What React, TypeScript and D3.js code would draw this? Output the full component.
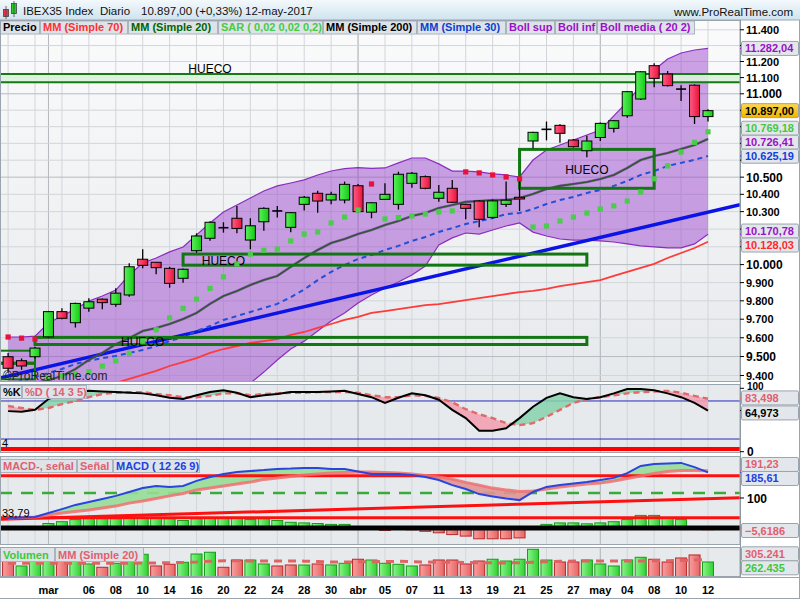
import React from "react";
import * as d3 from "d3";

// ---------- DATA ----------
const dates = [
  "2017-02-24","2017-02-27","2017-02-28",
  "2017-03-01","2017-03-02","2017-03-03","2017-03-06","2017-03-07","2017-03-08","2017-03-09","2017-03-10",
  "2017-03-13","2017-03-14","2017-03-15","2017-03-16","2017-03-17","2017-03-20","2017-03-21","2017-03-22",
  "2017-03-23","2017-03-24","2017-03-27","2017-03-28","2017-03-29","2017-03-30","2017-03-31",
  "2017-04-03","2017-04-04","2017-04-05","2017-04-06","2017-04-07","2017-04-10","2017-04-11","2017-04-12",
  "2017-04-13","2017-04-18","2017-04-19","2017-04-20","2017-04-21","2017-04-24","2017-04-25","2017-04-26",
  "2017-04-27","2017-04-28",
  "2017-05-02","2017-05-03","2017-05-04","2017-05-05","2017-05-08","2017-05-09","2017-05-10","2017-05-11","2017-05-12",
];
const opens = [9499,9478,9499,9605,9741,9681,9760,9809,9781,9832,10030,10013,9979,9924,10078,10148,10208,10262,10138,10242,10304,10210,10342,10406,10367,10367,10450,10297,10371,10342,10464,10503,10377,10435,10342,10361,10267,10342,10383,10714,10784,10808,10720,10656,10735,10790,10866,10968,11174,11122,11029,11053,10861];
const highs = [9519,9490,9552,9745,9760,9790,9814,9812,9869,10007,10086,10015,9988,9978,10176,10245,10239,10332,10262,10325,10332,10298,10390,10421,10415,10474,10460,10355,10464,10532,10530,10510,10454,10483,10345,10365,10370,10474,10488,10770,10831,10815,10725,10745,10825,10840,11016,11140,11189,11141,11053,11058,10905];
const lows = [9416,9430,9490,9600,9700,9655,9741,9754,9768,9822,9979,9946,9872,9899,10067,10134,10180,10177,10086,10190,10267,10182,10306,10294,10342,10348,10295,10262,10368,10312,10438,10430,10357,10350,10256,10210,10260,10327,10304,10671,10718,10704,10675,10617,10714,10765,10854,10962,11040,11045,10956,10816,10831];
const closes = [9438,9450,9545,9741,9705,9786,9795,9790,9842,9988,9996,9983,9896,9974,10161,10239,10208,10204,10219,10319,10304,10294,10383,10361,10400,10458,10300,10351,10400,10517,10523,10435,10412,10354,10319,10256,10362,10366,10373,10766,10784,10760,10680,10714,10820,10836,11013,11136,11095,11050,11029,10861,10897];
const prevCloseBeforeFirst = 9480;

const volumes = [301200,191400,289800,331500,300700,290300,227100,168400,239200,280600,400300,191800,221500,257300,405100,436400,168200,298300,297700,227600,191300,209400,208900,227200,209600,239100,311400,298200,239500,221300,191100,209700,298400,297900,227300,280200,311200,280400,311600,489300,298100,262300,262700,298500,227400,191200,298600,346300,311300,262100,334400,388200,262435];
const volumeMA20 = [241000,240000,239000,238000,238000,239000,239000,240000,240000,241000,243000,246000,250000,255000,262000,275000,286000,283000,280000,280000,280000,280000,278000,270000,262000,262000,265000,268000,270000,275000,268000,262000,257000,257000,254000,250000,248000,245000,250000,257000,265000,275000,280000,280000,280000,280000,280000,282000,283000,285000,290000,298000,305241];

const sma20 = [9345,9352,9362,9375,9397,9434,9482,9519,9566,9598,9636,9652,9674,9701,9734,9783,9826,9854,9887,9914,9937,9987,10037,10082,10121,10144,10172,10195,10223,10246,10275,10292,10321,10338,10356,10361,10367,10367,10379,10402,10431,10449,10460,10472,10489,10513,10554,10601,10625,10643,10666,10690,10726.41];
const sma30 = [9350,9371,9392,9413,9434,9461,9477,9492,9503,9519,9535,9556,9582,9604,9636,9663,9696,9717,9739,9761,9783,9820,9862,9914,9959,9998,10031,10054,10082,10105,10133,10155,10184,10206,10229,10246,10263,10286,10292,10315,10344,10367,10385,10408,10425,10449,10478,10513,10536,10566,10584,10602,10625.19];
const sma70 = [9273,9283,9294,9304,9315,9325,9335,9346,9361,9382,9403,9424,9450,9471,9492,9519,9540,9556,9572,9582,9593,9615,9631,9653,9674,9696,9712,9734,9744,9755,9766,9777,9782,9793,9804,9815,9826,9837,9848,9854,9865,9881,9892,9903,9914,9937,9959,9982,10004,10037,10065,10093,10128.03];
const bollUpper = [9604,9604,9609,9679,9717,9755,9799,9826,9859,9942,10009,10037,10071,10099,10167,10235,10298,10338,10379,10419,10449,10466,10484,10513,10536,10550,10556,10552,10554,10584,10613,10613,10578,10536,10536,10531,10519,10513,10501,10601,10660,10690,10720,10750,10780,10865,10950,11048,11147,11216,11253,11272,11282.04];
const bollLower = [9090,9085,9080,9070,9080,9100,9160,9190,9220,9250,9265,9270,9275,9290,9300,9320,9335,9345,9360,9418,9482,9540,9582,9636,9690,9734,9788,9832,9870,9903,9942,9992,10110,10150,10178,10172,10195,10218,10235,10183,10161,10144,10138,10138,10133,10127,10116,10105,10099,10094,10094,10116,10170.78];
const sar = [9604,9598,9593,9390,9398,9408,9420,9450,9477,9517,9582,9643,9707,9759,9809,9868,9932,10004,10059,10080,10087,10133,10172,10184,10235,10269,10309,10460,10258,10266,10275,10286,10298,10304,10531,10525,10513,10501,10490,10212,10218,10246,10269,10292,10315,10333,10361,10413,10490,10566,10648,10706,10769.18];

const stochK = [64,63,66,83,92,94,96,95,94,93,92,89,85,83,89,94,97,93,86,89,91,94,94,94,95,96,91,86,77,85,92,89,82,66,53,33,33,37,53,71,85,92,86,83,86,92,99,99,97,92,86,77,64.973];
const stochD = [72,69,66,69,75,80,86,91,93,94,94,91,89,86,86,88,92,92,89,91,92,93,93,94,94,94,93,89,86,86,89,88,85,78,67,59,53,45,42,45,55,66,77,83,86,89,92,94,95,96,93,88,83.498];

const macdLine = [33,35,37,50,63,77,87,97,107,120,133,140,137,140,157,170,180,187,190,193,197,198,200,200,197,197,188,180,180,180,177,170,160,143,130,113,105,98,93,120,137,143,148,153,160,167,183,207,213,215,217,203,185.61];
const macdSignal = [33,35,37,43,50,55,60,67,73,83,90,98,107,115,127,133,140,147,153,162,167,172,177,180,183,185,187,187,185,183,180,175,170,163,152,143,133,127,122,123,130,137,142,147,150,157,165,173,182,188,192,192,191.23];
const macdHist = [0,0,0,15,21,28,31,31,31,33,33,33,31,25,31,33,33,33,28,31,25,19,17,15,12,12,5,-3,-8,-5,-6,-11,-16,-22,-27,-36,-36,-36,-33,-2,12,17,17,14,17,21,28,42,42,34,28,-2,-5.6186];

const priceTicks = [9400,9500,9600,9700,9800,9900,10000,10100,10200,10300,10400,10500,10600,10700,10800,10900,11000,11100,11200,11300,11400];
const stochTicks = [100, 50, 0];
const macdTicks = [100];
const tickDates = ["2017-03-01","2017-03-06","2017-03-08","2017-03-10","2017-03-14","2017-03-16","2017-03-20","2017-03-22","2017-03-24","2017-03-28","2017-03-30","2017-04-03","2017-04-05","2017-04-07","2017-04-11","2017-04-13","2017-04-19","2017-04-21","2017-04-25","2017-04-27","2017-05-02","2017-05-04","2017-05-08","2017-05-10","2017-05-12"];
const tickTexts = ["mar","06","08","10","14","16","20","22","24","28","30","abr","05","07","11","13","19","21","25","27","may","04","08","10","12"];
const monthStarts = ["2017-03-01","2017-04-03","2017-05-02"];

// gap ("HUECO") zones
const gapLows = [11071, 10435, 9997, 9564, 9468, 9380];
const gapHighs = [11122, 10664, 10059, 9602, 9531, 9461];
const gapStarts: (string | null)[] = [null, "2017-04-21", "2017-03-15", "2017-02-28", null, null];
const gapEnds: (string | null)[] = [null, "2017-05-08", "2017-04-28", "2017-04-28", "2017-02-28", "2017-02-28"];
const gapLabelDates: (string | null)[] = ["2017-03-17", "2017-04-28", "2017-03-20", "2017-03-10", null, null];

// trend lines
const trendDates = ["2017-02-24", "2017-05-12"];
const trendPrices = [9397, 10297];
const macdTrendValues = [29.7, 98];
const macdRedLevels = [174.3, 33.79];
const macdDashLevel = 116.7;
const stochBlueLevels = [80, 20];
const stochRedLevel = 4.2;

// ---------- helpers ----------
const loc = d3.formatLocale({ decimal: ",", thousands: ".", grouping: [3], currency: ["", ""] });
const fmt2 = loc.format(",.2f");
const fmt3 = loc.format(".3f");
const fmt4 = loc.format(".4f");
const fmtInt = loc.format(",.0f");

function spread<T extends { y: number }>(items: T[], gap: number) {
  const arr = items.map((d) => ({ ...d, ly: d.y })).sort((a, b) => a.y - b.y);
  for (let it = 0; it < 60; it++) {
    let moved = false;
    for (let k = 0; k < arr.length - 1; k++) {
      const d = arr[k + 1].ly - arr[k].ly;
      if (d < gap - 0.01) {
        const m = (gap - d) / 2;
        arr[k].ly -= m;
        arr[k + 1].ly += m;
        moved = true;
      }
    }
    if (!moved) break;
  }
  return arr;
}

const FONT = "'Liberation Sans', Arial, Helvetica, sans-serif";
const AX = 740;
const P = { top: 20, bottom: 382 };
const S = { top: 384, bottom: 453 };
const M = { top: 456, bottom: 545 };
const V = { top: 547, bottom: 577 };

function LegendRow({ items, y, h }: { items: { x0: number; x1: number; text: string; color: string }[]; y: number; h: number }) {
  return (
    <g>
      {items.map((it, k) => (
        <g key={k}>
          <rect x={it.x0 + 0.5} y={y + 0.5} width={it.x1 - it.x0 - 1} height={h} fill="#dde3e8" stroke="#aab4bd" />
          <text x={it.x0 + 3} y={y + h - 2.5} fontSize={11} fontWeight="bold" fill={it.color} fontFamily={FONT}>
            {it.text}
          </text>
        </g>
      ))}
    </g>
  );
}

function ValueBox({ y, ly, text, color, fill }: { y: number; ly: number; text: string; color: string; fill?: string }) {
  return (
    <g>
      <line x1={AX} x2={AX + 4} y1={y} y2={y} stroke={color} strokeWidth={1} />
      <rect x={741.5} y={ly - 7} width={57} height={14} rx={1.5} fill={fill || "#e3e7eb"} stroke="#9aa4ae" />
      <text x={745} y={ly + 4} fontSize={11} fontWeight="bold" fill={fill ? "#000" : color} fontFamily={FONT}>
        {text}
      </text>
    </g>
  );
}

export default function App() {
  const x = d3.scalePoint<string>().domain(dates).range([8.1, 708]);
  const X = (i: number) => x(dates[i]) as number;
  const XD = (d: string) => x(d) as number;
  const yP = d3.scaleLog().domain([9400, 11200]).range([375.5, 61.5]);
  const yS = d3.scaleLinear().domain([0, 100]).range([451.7, 388.3]);
  const yM = d3.scaleLinear().domain([0, 100]).range([528, 498]);
  const yV = d3.scaleLinear().domain([0, 262435]).range([576.7, 562]);

  const lineOf = (arr: number[], ys: (v: number) => number) =>
    d3.line<number>().x((_, i) => X(i)).y((v) => ys(v))(arr) || "";

  const bollArea =
    d3.area<number>().x((_, i) => X(i)).y0((_, i) => yP(bollLower[i])).y1((v) => yP(v))(bollUpper) || "";

  const stBetween = d3.area<number>().x((_, i) => X(i)).y0((_, i) => yS(stochD[i])).y1((v) => yS(v))(stochK) || "";
  const stAboveD = d3.area<number>().x((_, i) => X(i)).y0(S.top).y1((v) => yS(v))(stochD) || "";
  const stBelowD = d3.area<number>().x((_, i) => X(i)).y0(S.bottom).y1((v) => yS(v))(stochD) || "";
  const mBetween = d3.area<number>().x((_, i) => X(i)).y0((_, i) => yM(macdSignal[i])).y1((v) => yM(v))(macdLine) || "";
  const mAboveS = d3.area<number>().x((_, i) => X(i)).y0(M.top).y1((v) => yM(v))(macdSignal) || "";
  const mBelowS = d3.area<number>().x((_, i) => X(i)).y0(M.bottom).y1((v) => yM(v))(macdSignal) || "";

  const tx0 = XD(trendDates[0]), tx1 = XD(trendDates[1]);
  const ty0 = yP(trendPrices[0]), ty1 = yP(trendPrices[1]);
  const tSlope = (ty1 - ty0) / (tx1 - tx0);
  const my0 = yM(macdTrendValues[0]), my1 = yM(macdTrendValues[1]);
  const mSlope = (my1 - my0) / (tx1 - tx0);

  const gridIdx = dates.map((_, i) => i).filter((i) => i % 2 === 0);
  const last = dates.length - 1;

  const priceLabels = spread(
    [
      { y: yP(bollUpper[last]), text: fmt2(bollUpper[last]), color: "#9a10c8" },
      { y: yP(closes[last]), text: fmt2(closes[last]), color: "#000", fill: "url(#gold)" },
      { y: yP(sar[last]), text: fmt2(sar[last]), color: "#44c844" },
      { y: yP(sma20[last]), text: fmt2(sma20[last]), color: "#9a10c8" },
      { y: yP(sma30[last]), text: fmt2(sma30[last]), color: "#1040e0" },
      { y: yP(bollLower[last]), text: fmt2(bollLower[last]), color: "#9a10c8" },
      { y: yP(sma70[last]), text: fmt2(sma70[last]), color: "#ff2a2a" },
    ],
    14
  );
  const stochLabels = spread(
    [
      { y: yS(stochD[last]), text: fmt3(stochD[last]), color: "#e06070" },
      { y: yS(stochK[last]), text: fmt3(stochK[last]), color: "#000" },
    ],
    15
  );
  const macdLabels = spread(
    [
      { y: yM(macdSignal[last]), text: fmt2(macdSignal[last]), color: "#e06070" },
      { y: yM(macdLine[last]), text: fmt2(macdLine[last]), color: "#2040e0" },
    ],
    14
  );
  const volLabels = spread(
    [
      { y: yV(volumeMA20[last]), text: fmtInt(volumeMA20[last]), color: "#e06070" },
      { y: yV(volumes[last]), text: fmtInt(volumes[last]), color: "#3cc83c" },
    ],
    14
  );
  const boxYs = [...priceLabels, ...stochLabels, ...macdLabels].map((l) => l.ly);
  const freeOfBoxes = (yy: number, lim: number) => boxYs.every((b) => Math.abs(b - yy) >= lim);

  const vgrid = (top: number, bottom: number) => (
    <g>
      {gridIdx.map((i) => (
        <line key={i} x1={X(i)} x2={X(i)} y1={top} y2={bottom} stroke="#d2d6da" strokeWidth={1} />
      ))}
      {monthStarts.map((d) => (
        <line key={d} x1={XD(d)} x2={XD(d)} y1={top} y2={bottom} stroke="#b4b9be" strokeWidth={1} />
      ))}
    </g>
  );

  return (
    <svg width={800} height={600} style={{ position: "absolute", left: 0, top: 0 }} fontFamily={FONT}>
      <defs>
        <linearGradient id="hdr" x1="0" y1="0" x2="0" y2="1">
          <stop offset="0" stopColor="#f3f9fc" />
          <stop offset="1" stopColor="#cfe3ee" />
        </linearGradient>
        <linearGradient id="pbg" x1="0" y1="0" x2="0" y2="1">
          <stop offset="0" stopColor="#fbfbfc" />
          <stop offset="1" stopColor="#e6e9ec" />
        </linearGradient>
        <linearGradient id="gold" x1="0" y1="0" x2="0" y2="1">
          <stop offset="0" stopColor="#ffd84a" />
          <stop offset="1" stopColor="#f0b400" />
        </linearGradient>
        <linearGradient id="cg" x1="0" y1="0" x2="1" y2="0">
          <stop offset="0" stopColor="#5cf05c" />
          <stop offset="1" stopColor="#12cc12" />
        </linearGradient>
        <linearGradient id="cr" x1="0" y1="0" x2="1" y2="0">
          <stop offset="0" stopColor="#ff5c80" />
          <stop offset="1" stopColor="#e8123e" />
        </linearGradient>
        <linearGradient id="vg" x1="0" y1="0" x2="1" y2="0">
          <stop offset="0" stopColor="#8af58a" />
          <stop offset="1" stopColor="#30d030" />
        </linearGradient>
        <linearGradient id="vr" x1="0" y1="0" x2="1" y2="0">
          <stop offset="0" stopColor="#f8a0a0" />
          <stop offset="1" stopColor="#e86464" />
        </linearGradient>
        <clipPath id="clipP"><rect x={1} y={P.top} width={AX - 1} height={P.bottom - P.top} /></clipPath>
        <clipPath id="clipS"><rect x={1} y={S.top} width={AX - 1} height={S.bottom - S.top} /></clipPath>
        <clipPath id="clipM"><rect x={1} y={M.top} width={AX - 1} height={M.bottom - M.top} /></clipPath>
        <clipPath id="clipV"><rect x={1} y={V.top} width={AX - 1} height={V.bottom - V.top} /></clipPath>
        <clipPath id="stAbove"><path d={stAboveD} /></clipPath>
        <clipPath id="stBelow"><path d={stBelowD} /></clipPath>
        <clipPath id="mAbove"><path d={mAboveS} /></clipPath>
        <clipPath id="mBelow"><path d={mBelowS} /></clipPath>
      </defs>

      <rect x={0} y={0} width={800} height={600} fill="#ffffff" />

      {/* header */}
      <rect x={0} y={0} width={800} height={20} fill="url(#hdr)" />
      <line x1={0} x2={800} y1={20} y2={20} stroke="#9aa6b0" />
      <rect x={3.5} y={9.5} width={5} height={7} fill="#f03050" stroke="#444" strokeWidth={0.8} />
      <line x1={6} x2={6} y1={6} y2={19} stroke="#444" strokeWidth={0.8} />
      <rect x={11.5} y={3.5} width={5} height={10} fill="#22d022" stroke="#444" strokeWidth={0.8} />
      <line x1={14} x2={14} y1={1} y2={17} stroke="#444" strokeWidth={0.8} />
      <g fontSize={11.5} fill="#111">
        <text x={23} y={15}>IBEX35 Index</text>
        <text x={100} y={15}>Diario</text>
        <text x={141} y={15}>10.897,00 (+0,33%)</text>
        <text x={245} y={15}>12-may-2017</text>
        <text x={793} y={15.5} textAnchor="end">www.ProRealTime.com</text>
      </g>

      {/* ---------- PRICE PANEL ---------- */}
      <rect x={0} y={P.top} width={AX} height={P.bottom - P.top} fill="url(#pbg)" />
      <g clipPath="url(#clipP)">
        {vgrid(P.top, P.bottom)}
        {priceTicks.map((t) => (
          <line key={t} x1={0} x2={AX} y1={yP(t)} y2={yP(t)} stroke={t % 500 === 0 ? "#b6bbc0" : "#d2d6da"} />
        ))}
        <path d={bollArea} fill="#9a40cc" fillOpacity={0.48} />
        <path d={lineOf(bollUpper, yP)} fill="none" stroke="#8a2cc0" strokeWidth={1.2} />
        <path d={lineOf(bollLower, yP)} fill="none" stroke="#8a2cc0" strokeWidth={1.2} />
        <rect x={0} y={yP(gapHighs[0])} width={AX} height={yP(gapLows[0]) - yP(gapHighs[0])} fill="#dcf3dc" fillOpacity={0.9} />
        <path d={lineOf(sma70, yP)} fill="none" stroke="#ff3a3a" strokeWidth={1.8} />
        <line x1={0} y1={ty0 - tSlope * tx0} x2={AX} y2={ty0 + tSlope * (AX - tx0)} stroke="#0a14e6" strokeWidth={3.5} />
        <path d={lineOf(sma30, yP)} fill="none" stroke="#2050d8" strokeWidth={2} strokeDasharray="5,4" />
        <path d={lineOf(sma20, yP)} fill="none" stroke="#7a30b0" strokeWidth={2.6} strokeOpacity={0.6} />
        <path d={lineOf(sma20, yP)} fill="none" stroke="#2f5a2f" strokeWidth={1.6} />
        {gapLows.map((lo, k) => {
          const hi = gapHighs[k];
          const x0 = gapStarts[k] ? XD(gapStarts[k] as string) : -5;
          const x1 = gapEnds[k] ? XD(gapEnds[k] as string) : AX + 5;
          const yt = yP(hi), yb = yP(lo);
          const ld = gapLabelDates[k];
          if (k === 0) {
            return (
              <g key={k}>
                <line x1={x0} x2={x1} y1={yt} y2={yt} stroke="#167a16" strokeWidth={2} />
                <line x1={x0} x2={x1} y1={yb} y2={yb} stroke="#167a16" strokeWidth={2} />
                {ld && <text x={XD(ld)} y={yt - 1.5} textAnchor="middle" fontSize={12} fill="#000">HUECO</text>}
              </g>
            );
          }
          return (
            <g key={k}>
              <rect x={x0} y={yt} width={x1 - x0} height={yb - yt} fill="none" stroke="#127612" strokeWidth={ld ? 3 : 2} />
              {ld && <text x={XD(ld)} y={(yt + yb) / 2 + 5} textAnchor="middle" fontSize={12} fill="#000">HUECO</text>}
            </g>
          );
        })}
        {dates.map((d, i) => {
          const cx = X(i);
          const o = opens[i], c = closes[i];
          return (
            <g key={d}>
              <line x1={cx} x2={cx} y1={yP(highs[i])} y2={yP(lows[i])} stroke="#000" strokeWidth={1.3} />
              {o === c ? (
                <line x1={cx - 5} x2={cx + 5} y1={yP(c)} y2={yP(c)} stroke="#000" strokeWidth={1.6} />
              ) : (
                <rect
                  x={cx - 5}
                  width={10}
                  y={yP(Math.max(o, c))}
                  height={Math.max(1, Math.abs(yP(o) - yP(c)))}
                  fill={c > o ? "url(#cg)" : "url(#cr)"}
                  stroke="#000"
                  strokeWidth={1}
                />
              )}
            </g>
          );
        })}
        {sar.map((v, i) => (
          <rect key={i} x={X(i) - 2.6} y={yP(v) - 2.6} width={5.2} height={5.2} fill={v > highs[i] ? "#e8103c" : "#4ccc4c"} />
        ))}
        <text x={3} y={380} fontSize={12} fill="#222">©ProRealTime.com</text>
      </g>
      <LegendRow
        y={20.5}
        h={13}
        items={[
          { x0: 0, x1: 40, text: "Precio", color: "#000" },
          { x0: 40, x1: 128, text: "MM (Simple 70)", color: "#ff3030" },
          { x0: 128, x1: 218, text: "MM (Simple 20)", color: "#006400" },
          { x0: 218, x1: 323, text: "SAR ( 0,02 0,02 0,2)", color: "#44cc44" },
          { x0: 323, x1: 417, text: "MM (Simple 200)", color: "#000" },
          { x0: 417, x1: 506, text: "MM (Simple 30)", color: "#0a40d0" },
          { x0: 506, x1: 555, text: "Boll sup", color: "#9a10c8" },
          { x0: 555, x1: 597, text: "Boll inf", color: "#9a10c8" },
          { x0: 597, x1: 695, text: "Boll media ( 20 2)", color: "#9a10c8" },
        ]}
      />

      {/* ---------- STOCHASTIC PANEL ---------- */}
      <rect x={0} y={S.top} width={AX} height={S.bottom - S.top} fill="#e7eaed" />
      <g clipPath="url(#clipS)">
        {vgrid(S.top, S.bottom)}
        {stochBlueLevels.map((l) => (
          <line key={l} x1={0} x2={AX} y1={yS(l)} y2={yS(l)} stroke="#2a2ab8" strokeWidth={1} />
        ))}
        <line x1={0} x2={AX} y1={yS(stochRedLevel)} y2={yS(stochRedLevel)} stroke="#ff0000" strokeWidth={4} />
        <path d={stBetween} fill="#86d2ac" fillOpacity={0.85} clipPath="url(#stAbove)" />
        <path d={stBetween} fill="#f2a2b4" fillOpacity={0.9} clipPath="url(#stBelow)" />
        <path d={lineOf(stochD, yS)} fill="none" stroke="#e06a6a" strokeWidth={2.4} strokeDasharray="6,4" />
        <path d={lineOf(stochK, yS)} fill="none" stroke="#000" strokeWidth={2} />
        <text x={2} y={447} fontSize={11} fill="#000">4</text>
      </g>
      <LegendRow
        y={385}
        h={13}
        items={[
          { x0: 0, x1: 22, text: "%K", color: "#000" },
          { x0: 22, x1: 87, text: "%D ( 14 3 5)", color: "#e06070" },
        ]}
      />

      {/* ---------- MACD PANEL ---------- */}
      <rect x={0} y={M.top} width={AX} height={M.bottom - M.top} fill="#e7eaed" />
      <g clipPath="url(#clipM)">
        {vgrid(M.top, M.bottom)}
        <line x1={0} x2={AX} y1={yM(macdDashLevel)} y2={yM(macdDashLevel)} stroke="#3aaa3a" strokeWidth={2.5} strokeDasharray="12,9" />
        {macdHist.map((v, i) =>
          Math.abs(v) < 0.5 ? null : (
            <rect
              key={i}
              x={X(i) - 5.5}
              width={11}
              y={Math.min(yM(v), yM(0))}
              height={Math.abs(yM(v) - yM(0))}
              fill={v > 0 ? "url(#vg)" : "url(#vr)"}
              stroke={v > 0 ? "#1a9a1a" : "#b82828"}
              strokeWidth={1}
            />
          )
        )}
        <line x1={0} x2={AX} y1={yM(0)} y2={yM(0)} stroke="#000" strokeWidth={5} />
        <path d={mBetween} fill="#96de96" fillOpacity={0.9} clipPath="url(#mAbove)" />
        <path d={mBetween} fill="#e09494" fillOpacity={0.9} clipPath="url(#mBelow)" />
        {macdRedLevels.map((l) => (
          <line key={l} x1={0} x2={AX} y1={yM(l)} y2={yM(l)} stroke="#ff1010" strokeWidth={3} />
        ))}
        <line x1={0} y1={my0 - mSlope * tx0} x2={AX} y2={my0 + mSlope * (AX - tx0)} stroke="#ff1010" strokeWidth={3} />
        <path d={lineOf(macdSignal, yM)} fill="none" stroke="#f07070" strokeWidth={3} strokeOpacity={0.85} />
        <path d={lineOf(macdLine, yM)} fill="none" stroke="#2a44e0" strokeWidth={2} />
        <text x={2} y={517} fontSize={11} fill="#000">33,79</text>
      </g>
      <LegendRow
        y={459}
        h={13}
        items={[
          { x0: 0, x1: 77, text: "MACD-, señal", color: "#e06070" },
          { x0: 77, x1: 113, text: "Señal", color: "#e06070" },
          { x0: 113, x1: 200, text: "MACD ( 12 26 9)", color: "#2040e0" },
        ]}
      />

      {/* ---------- VOLUME PANEL ---------- */}
      <rect x={0} y={V.top} width={AX} height={V.bottom - V.top} fill="#e7eaed" />
      <g clipPath="url(#clipV)">
        {vgrid(V.top, V.bottom)}
        {volumes.map((v, i) => {
          const prev = i === 0 ? prevCloseBeforeFirst : closes[i - 1];
          const up = closes[i] >= prev;
          return (
            <rect
              key={i}
              x={X(i) - 5.5}
              width={11}
              y={yV(v)}
              height={yV(0) - yV(v)}
              fill={up ? "url(#vg)" : "url(#vr)"}
              stroke={up ? "#1a9a1a" : "#b82828"}
              strokeWidth={1}
            />
          );
        })}
        <path d={lineOf(volumeMA20, yV)} fill="none" stroke="#e06464" strokeWidth={3} strokeDasharray="8,6" />
      </g>
      <LegendRow
        y={547}
        h={14}
        items={[
          { x0: 0, x1: 55, text: "Volumen", color: "#3cc83c" },
          { x0: 55, x1: 144, text: "MM (Simple 20)", color: "#e06070" },
        ]}
      />

      {/* panel frames */}
      {[P, S, M, V].map((p, k) => (
        <rect key={k} x={0.5} y={p.top + 0.5} width={AX - 0.5} height={p.bottom - p.top - 1} fill="none" stroke="#9aa4ae" />
      ))}
      <line x1={AX + 0.5} x2={AX + 0.5} y1={20} y2={577} stroke="#8e98a2" />
      <line x1={799.5} x2={799.5} y1={20} y2={599} stroke="#9aa4ae" />
      <line x1={0} x2={800} y1={598.5} y2={598.5} stroke="#9aa4ae" />
      <line x1={0} x2={800} y1={577.5} y2={577.5} stroke="#9aa4ae" />

      {/* ---------- RIGHT AXIS ---------- */}
      <g fontWeight="bold" fill="#000">
        {priceTicks.map((t) => {
          const yy = yP(t);
          const major = t % 500 === 0;
          return (
            <g key={t}>
              <line x1={AX} x2={AX + 4} y1={yy} y2={yy} stroke="#000" />
              {freeOfBoxes(yy, 11) && (
                <text x={746} y={yy + (major ? 4.5 : 4)} fontSize={major ? 12 : 11}>{fmtInt(t)}</text>
              )}
            </g>
          );
        })}
        {stochTicks.map((t) => {
          const yy = yS(t);
          const isTop = t === 100;
          if (!isTop && !freeOfBoxes(yy, 9)) return null;
          return (
            <g key={t}>
              <line x1={AX} x2={AX + 4} y1={yy} y2={yy} stroke="#000" />
              <text x={747} y={isTop ? 389.5 : yy + 4.5} fontSize={isTop ? 10 : 12}>{t}</text>
            </g>
          );
        })}
        {macdTicks.map((t) => (
          <g key={t}>
            <line x1={AX} x2={AX + 4} y1={yM(t)} y2={yM(t)} stroke="#000" />
            <text x={747} y={yM(t) + 4.5} fontSize={12}>{t}</text>
          </g>
        ))}
      </g>
      {priceLabels.map((l, k) => (
        <ValueBox key={k} y={l.y} ly={l.ly} text={l.text} color={l.color} fill={(l as any).fill} />
      ))}
      {stochLabels.map((l, k) => (
        <ValueBox key={k} y={l.y} ly={l.ly + 0.8} text={l.text} color={l.color} />
      ))}
      {macdLabels.map((l, k) => (
        <ValueBox key={k} y={l.y} ly={l.ly} text={l.text} color={l.color} />
      ))}
      <ValueBox y={yM(0)} ly={yM(0) + 2.5} text={fmt4(macdHist[last])} color="#e06070" />
      {volLabels.map((l, k) => (
        <ValueBox key={k} y={l.y} ly={l.ly} text={l.text} color={l.color} />
      ))}

      {/* ---------- X AXIS ---------- */}
      <g fontSize={11} fontWeight="bold" fill="#000">
        {tickDates.map((d, k) => (
          <text key={d} x={XD(d)} y={594} textAnchor="middle">{tickTexts[k]}</text>
        ))}
      </g>
    </svg>
  );
}
